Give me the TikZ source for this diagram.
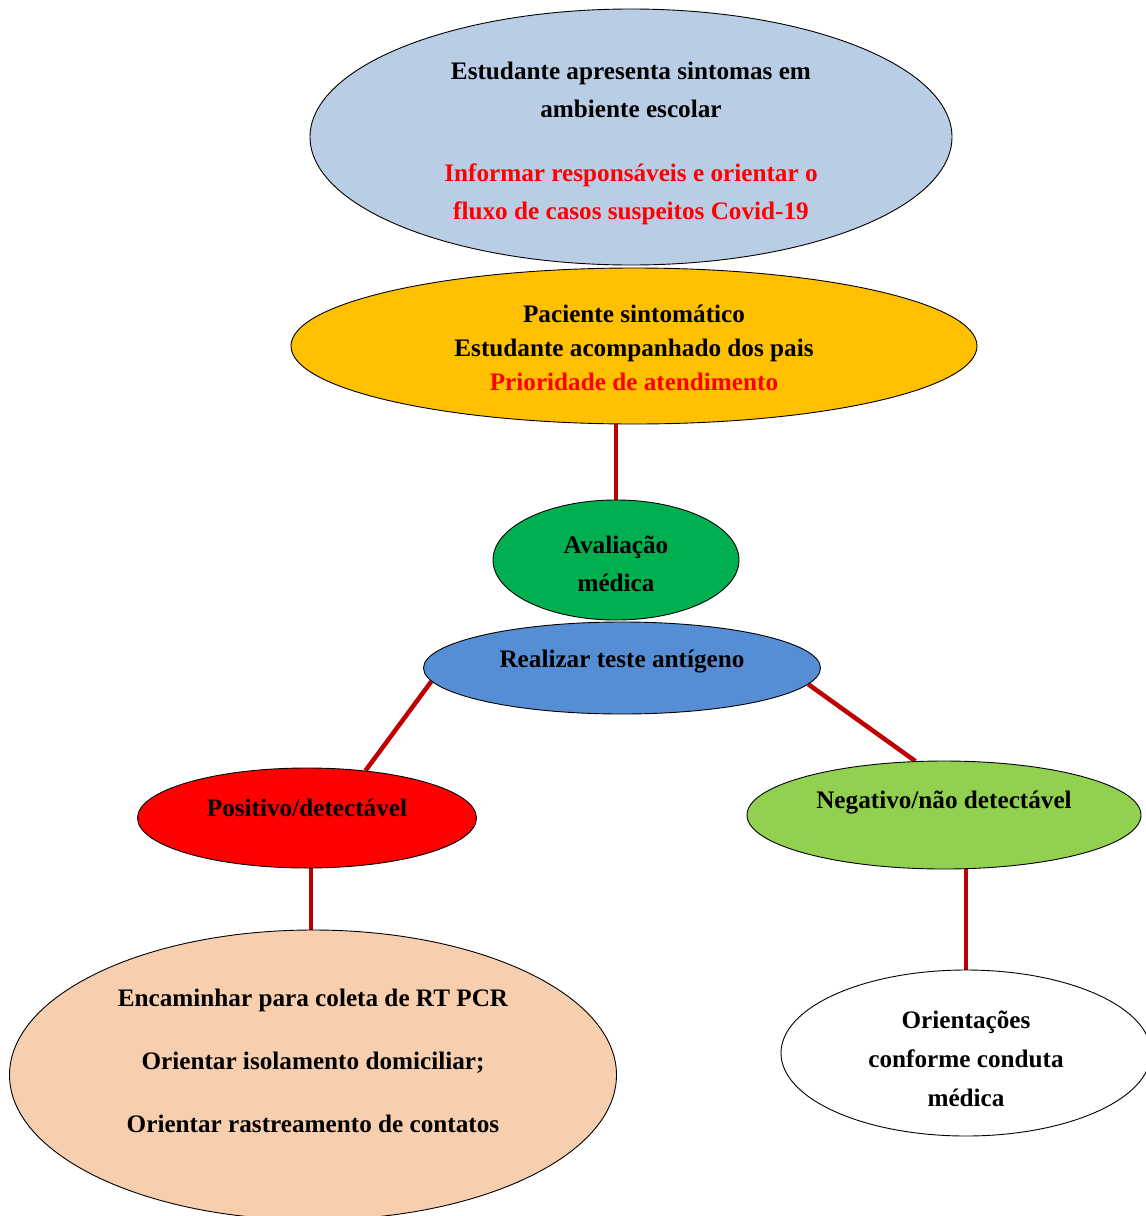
\documentclass[tikz,border=0pt]{standalone}
\usepackage{fontspec}
\setmainfont{Liberation Serif}
\usepackage{tikz}
\usetikzlibrary{shapes.geometric,backgrounds}
\definecolor{azulclaro}{HTML}{B9CDE5}
\definecolor{laranja}{HTML}{FFC000}
\definecolor{verde}{HTML}{00B050}
\definecolor{azul}{HTML}{558ED5}
\definecolor{verdeclaro}{HTML}{92D050}
\definecolor{pessego}{HTML}{F8CFAE}
\definecolor{linha}{HTML}{C00000}
\tikzset{
  bolha/.style={ellipse, draw=black, line width=0.9pt, inner sep=0pt},
  texto/.style={align=center, font=\bfseries\fontsize{25.2}{38}\selectfont},
  ligacao/.style={draw=linha, line width=4.5pt}
}
\begin{document}
\begin{tikzpicture}[x=1pt,y=-1pt]
				\clip (0,0) rectangle (1146,1216);
				\useasboundingbox (0,0) rectangle (1146,1216);
				
				\node[bolha, fill=azulclaro, minimum width=642, minimum height=256] (estudante) at (631,137) {};
				\node[texto] (t-estudante) at ([yshift=-6pt]estudante.center) {Estudante apresenta sintomas em\\ambiente escolar\\[26pt]\textcolor{red}{Informar responsáveis e orientar o}\\\textcolor{red}{fluxo de casos suspeitos Covid-19}};
				
				\node[bolha, fill=laranja, minimum width=686, minimum height=156] (paciente) at (634,346) {};
				\node[texto, font=\bfseries\fontsize{25.2}{34}\selectfont] (t-paciente) at ([yshift=-2pt]paciente.center) {Paciente sintomático\\Estudante acompanhado dos pais\\\textcolor{red}{Prioridade de atendimento}};
				
				\node[bolha, fill=verde, minimum width=246, minimum height=120] (avaliacao) at (616,560) {};
				\node[texto] (t-avaliacao) at ([yshift=-4pt]avaliacao.center) {Avaliação\\médica};
				
				\node[bolha, fill=azul, minimum width=397, minimum height=92] (teste) at (622,668) {};
				\node[texto] (t-teste) at ([yshift=6pt]teste.center) {Realizar teste antígeno};
				
				\node[bolha, fill=red, minimum width=339, minimum height=100] (positivo) at (307,818) {};
				\node[texto] (t-positivo) at ([yshift=10pt]positivo.center) {Positivo/detectável};
				
				\node[bolha, fill=verdeclaro, minimum width=394, minimum height=108] (negativo) at (944,815) {};
				\node[texto] (t-negativo) at ([yshift=13pt]negativo.center) {Negativo/não detectável};
				
				\node[bolha, fill=pessego, minimum width=607, minimum height=290] (encaminhar) at (313,1075) {};
				\node[texto, font=\bfseries\fontsize{25.2}{63}\selectfont] (t-encaminhar) at ([yshift=14pt]encaminhar.center) {Encaminhar para coleta de RT PCR\\Orientar isolamento domiciliar;\\Orientar rastreamento de contatos};
				
				\node[bolha, fill=white, minimum width=370, minimum height=166] (orientacoes) at (966,1053) {};
				\node[texto, font=\bfseries\fontsize{25.2}{39}\selectfont] (t-orientacoes) at ([yshift=-6pt]orientacoes.center) {Orientações\\conforme conduta\\médica};
				
				\begin{scope}[on background layer]
				\draw[ligacao] (avaliacao.north) -- (avaliacao.north |- paciente.south);
				\draw[ligacao] (teste.184) -- (positivo.39);
				\draw[ligacao] (teste.355) -- (negativo.118);
				\draw[ligacao] ([xshift=4pt]positivo.south) -- ([xshift=4pt]positivo.south |- encaminhar.north);
				\draw[ligacao] (orientacoes.north |- negativo.south) -- (orientacoes.north);
				\end{scope}
			\end{tikzpicture}
\end{document}
